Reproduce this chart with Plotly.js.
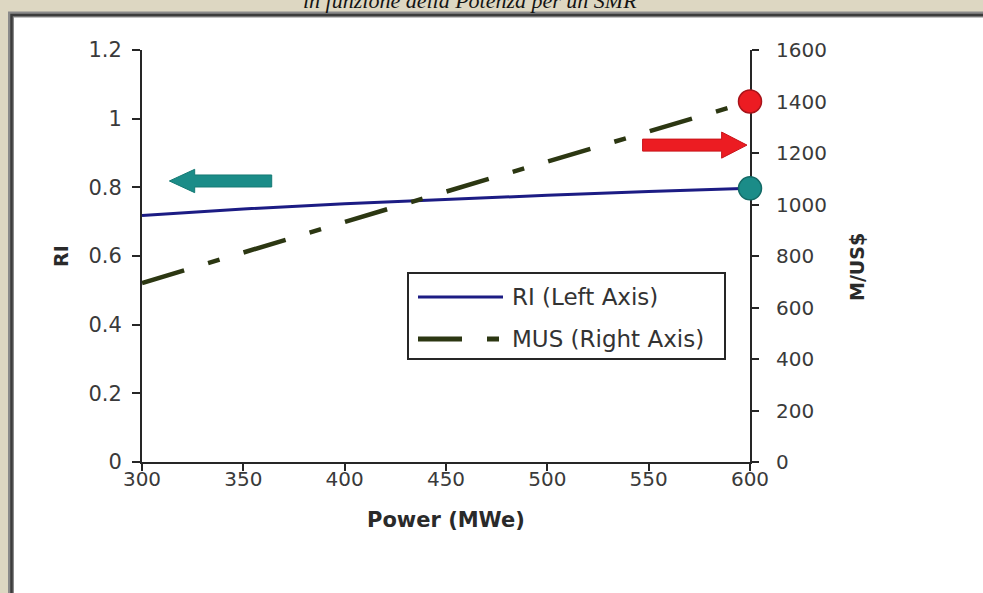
<!DOCTYPE html>
<html>
<head>
<meta charset="utf-8">
<script src="https://cdn.plot.ly/plotly-3.0.1.min.js"></script>
<style>html,body{margin:0;padding:0;overflow:hidden;background:#ddd7c2;}#chart{width:983px;height:593px;}</style>
</head>
<body>
<div id="chart"></div>
<script>
// ---- data ----
const power = [300, 350, 400, 450, 500, 550, 600];
const riValues = [0.718, 0.737, 0.752, 0.765, 0.777, 0.788, 0.797];
const musValues = [695, 815, 932, 1050, 1168, 1285, 1400];
const xTickVals = [300, 350, 400, 450, 500, 550, 600];
const riTickVals = [0, 0.2, 0.4, 0.6, 0.8, 1.0, 1.2];
const riGridVals = [0.2, 0.4, 0.6, 0.8, 1.0];
const musTickVals = [0, 200, 400, 600, 800, 1000, 1200, 1400, 1600];
const seriesNames = ['RI (Left Axis)', 'MUS (Right Axis)'];
const titleText = 'in funzione della Potenza per un SMR';
const xTitle = 'Power (MWe)';
const yTitle = 'RI';
const y2Title = 'M/US$';

// ---- styles ----
const FONT = 'DejaVu Sans';
const TICKCOL = '#3a3a3a';
const AXCOL = '#262626';
const RI_COL = '#1c1c84';
const MUS_COL = '#2c3712';
const TEAL = '#1b8c88';
const RED = '#ec1c22';
const MUS_DASH = '44px,25px,12px,25px';

// plot area geometry in pixels (for paper-coordinate decorations)
const W = 983, H = 593, L = 142, R = 233, T = 50, B = 131;
const PW = W - L - R, PH = H - T - B;
const px = x => (x - L) / PW;
const py = y => (H - B - y) / PH;

const traces = [
  {x: power, y: riValues, type: 'scatter', mode: 'lines', name: seriesNames[0],
   line: {color: RI_COL, width: 3}, yaxis: 'y', showlegend: false},
  {x: power, y: musValues, type: 'scatter', mode: 'lines', name: seriesNames[1],
   line: {color: MUS_COL, width: 4.5, dash: MUS_DASH}, yaxis: 'y2', showlegend: false},
  {x: [power[power.length - 1]], y: [riValues[riValues.length - 1]], type: 'scatter', mode: 'markers',
   marker: {color: TEAL, size: 23, line: {color: '#136a66', width: 1.5}}, yaxis: 'y',
   showlegend: false, cliponaxis: false, hoverinfo: 'skip'},
  {x: [power[power.length - 1]], y: [musValues[musValues.length - 1]], type: 'scatter', mode: 'markers',
   marker: {color: RED, size: 23, line: {color: '#a8141a', width: 1.5}}, yaxis: 'y2',
   showlegend: false, cliponaxis: false, hoverinfo: 'skip'}
];

// arrow helpers (data coords of x and left y axis)
function arrowPath(tail, base, tip, yc, bh, hh) {
  return `M${tail},${yc + bh} L${base},${yc + bh} L${base},${yc + hh} L${tip},${yc} ` +
         `L${base},${yc - hh} L${base},${yc - bh} L${tail},${yc - bh} Z`;
}

const shapes = [
  // frame
  {type: 'rect', xref: 'paper', yref: 'paper', x0: px(11), x1: px(1000), y0: py(620), y1: py(14.5),
   fillcolor: '#ffffff', line: {color: '#8a8a8a', width: 6}, layer: 'below'},
  {type: 'rect', xref: 'paper', yref: 'paper', x0: px(11.5), x1: px(1000), y0: py(620), y1: py(15),
   fillcolor: 'rgba(0,0,0,0)', line: {color: '#3c3c3c', width: 2.5}, layer: 'below'},
  // arrows
  {type: 'path', xref: 'x', yref: 'y', path: arrowPath(364, 326, 313.5, 0.8185, 0.0175, 0.034),
   fillcolor: TEAL, line: {color: '#157a74', width: 1}, layer: 'above'},
  {type: 'path', xref: 'x', yref: 'y', path: arrowPath(547, 586, 598.5, 0.923, 0.0175, 0.038),
   fillcolor: RED, line: {color: '#c8141a', width: 1}, layer: 'above'},
  // custom legend
  {type: 'rect', xref: 'paper', yref: 'paper', x0: px(408), x1: px(725), y0: py(359), y1: py(273),
   fillcolor: '#ffffff', line: {color: '#262626', width: 2}, layer: 'above'},
  {type: 'line', xref: 'paper', yref: 'paper', x0: px(418), x1: px(503), y0: py(297), y1: py(297),
   line: {color: RI_COL, width: 3}, layer: 'above'},
  {type: 'line', xref: 'paper', yref: 'paper', x0: px(418), x1: px(500), y0: py(339), y1: py(339),
   line: {color: MUS_COL, width: 5, dash: '44px,25px,12px,25px'}, layer: 'above'}
];

const annotations = [
  {text: titleText, xref: 'paper', yref: 'paper', x: px(470), y: py(0), xanchor: 'center', yanchor: 'middle',
   showarrow: false, font: {family: 'Liberation Serif', size: 22, color: '#141414', style: 'italic'}},
  {text: '<b>' + yTitle + '</b>', xref: 'paper', yref: 'paper', x: px(61), y: py(256), xanchor: 'center', yanchor: 'middle',
   textangle: -90, showarrow: false, font: {family: FONT, size: 19, color: '#2a2a2a'}},
  {text: '<b>' + y2Title + '</b>', xref: 'paper', yref: 'paper', x: px(857), y: py(267), xanchor: 'center', yanchor: 'middle',
   textangle: -90, showarrow: false, font: {family: FONT, size: 19, color: '#2a2a2a'}},
  {text: '<b>' + xTitle + '</b>', xref: 'paper', yref: 'paper', x: px(446), y: py(520), xanchor: 'center', yanchor: 'middle',
   showarrow: false, font: {family: FONT, size: 21, color: '#2a2a2a'}},
  {text: seriesNames[0], xref: 'paper', yref: 'paper', x: px(510), y: py(297), xanchor: 'left', yanchor: 'middle',
   showarrow: false, font: {family: FONT, size: 23, color: '#333333'}},
  {text: seriesNames[1], xref: 'paper', yref: 'paper', x: px(510), y: py(339), xanchor: 'left', yanchor: 'middle',
   showarrow: false, font: {family: FONT, size: 23, color: '#333333'}}
];

const layout = {
  width: W, height: H,
  margin: {l: L, r: R, t: T, b: B, pad: 0},
  paper_bgcolor: '#ddd7c2',
  plot_bgcolor: 'rgba(0,0,0,0)',
  showlegend: false,
  font: {family: FONT, color: TICKCOL},
  xaxis: {range: [300, 600], tickvals: xTickVals, ticks: 'outside', ticklen: 7, tickwidth: 2, tickcolor: AXCOL,
          showline: true, linecolor: AXCOL, linewidth: 2, showgrid: false, zeroline: false,
          tickfont: {family: FONT, size: 20, color: TICKCOL}, ticklabelstandoff: -9, automargin: false},
  yaxis: {range: [0, 1.2], tickvals: riTickVals, ticks: 'outside', ticklen: 8, tickwidth: 2, tickcolor: AXCOL,
          showline: true, linecolor: AXCOL, linewidth: 2, showgrid: false, zeroline: false,
          tickfont: {family: FONT, size: 21, color: TICKCOL}, ticklabelstandoff: 6, automargin: false},
  yaxis2: {range: [0, 1600], tickvals: musTickVals, overlaying: 'y', side: 'right', anchor: 'x',
           ticks: 'outside', ticklen: 7, tickwidth: 2, tickcolor: AXCOL,
           showline: true, linecolor: AXCOL, linewidth: 2, showgrid: false, zeroline: false,
           tickfont: {family: FONT, size: 20, color: TICKCOL}, ticklabelstandoff: 13, automargin: false,
           layer: 'below traces'},
  yaxis3: {range: [0, 1.2], tickvals: riGridVals, overlaying: 'y', side: 'left', anchor: 'x',
           ticks: '', showticklabels: false, showgrid: true, gridcolor: '#262626', gridwidth: 1.8,
           showline: false, zeroline: false, automargin: false, layer: 'below traces'},
  yaxis4: {range: [0, 1.2], tickvals: riTickVals, overlaying: 'y', side: 'left', anchor: 'x',
           ticks: 'inside', ticklen: 5, tickwidth: 2, tickcolor: AXCOL, showticklabels: false,
           showgrid: false, showline: false, zeroline: false, automargin: false},
  yaxis5: {range: [0, 1600], tickvals: musTickVals, overlaying: 'y', side: 'right', anchor: 'x',
           ticks: 'inside', ticklen: 5, tickwidth: 2, tickcolor: AXCOL, showticklabels: false,
           showgrid: false, showline: false, zeroline: false, automargin: false},
  shapes: shapes,
  annotations: annotations
};

Plotly.newPlot('chart', traces, layout, {staticPlot: true, displayModeBar: false});
</script>
</body>
</html>
